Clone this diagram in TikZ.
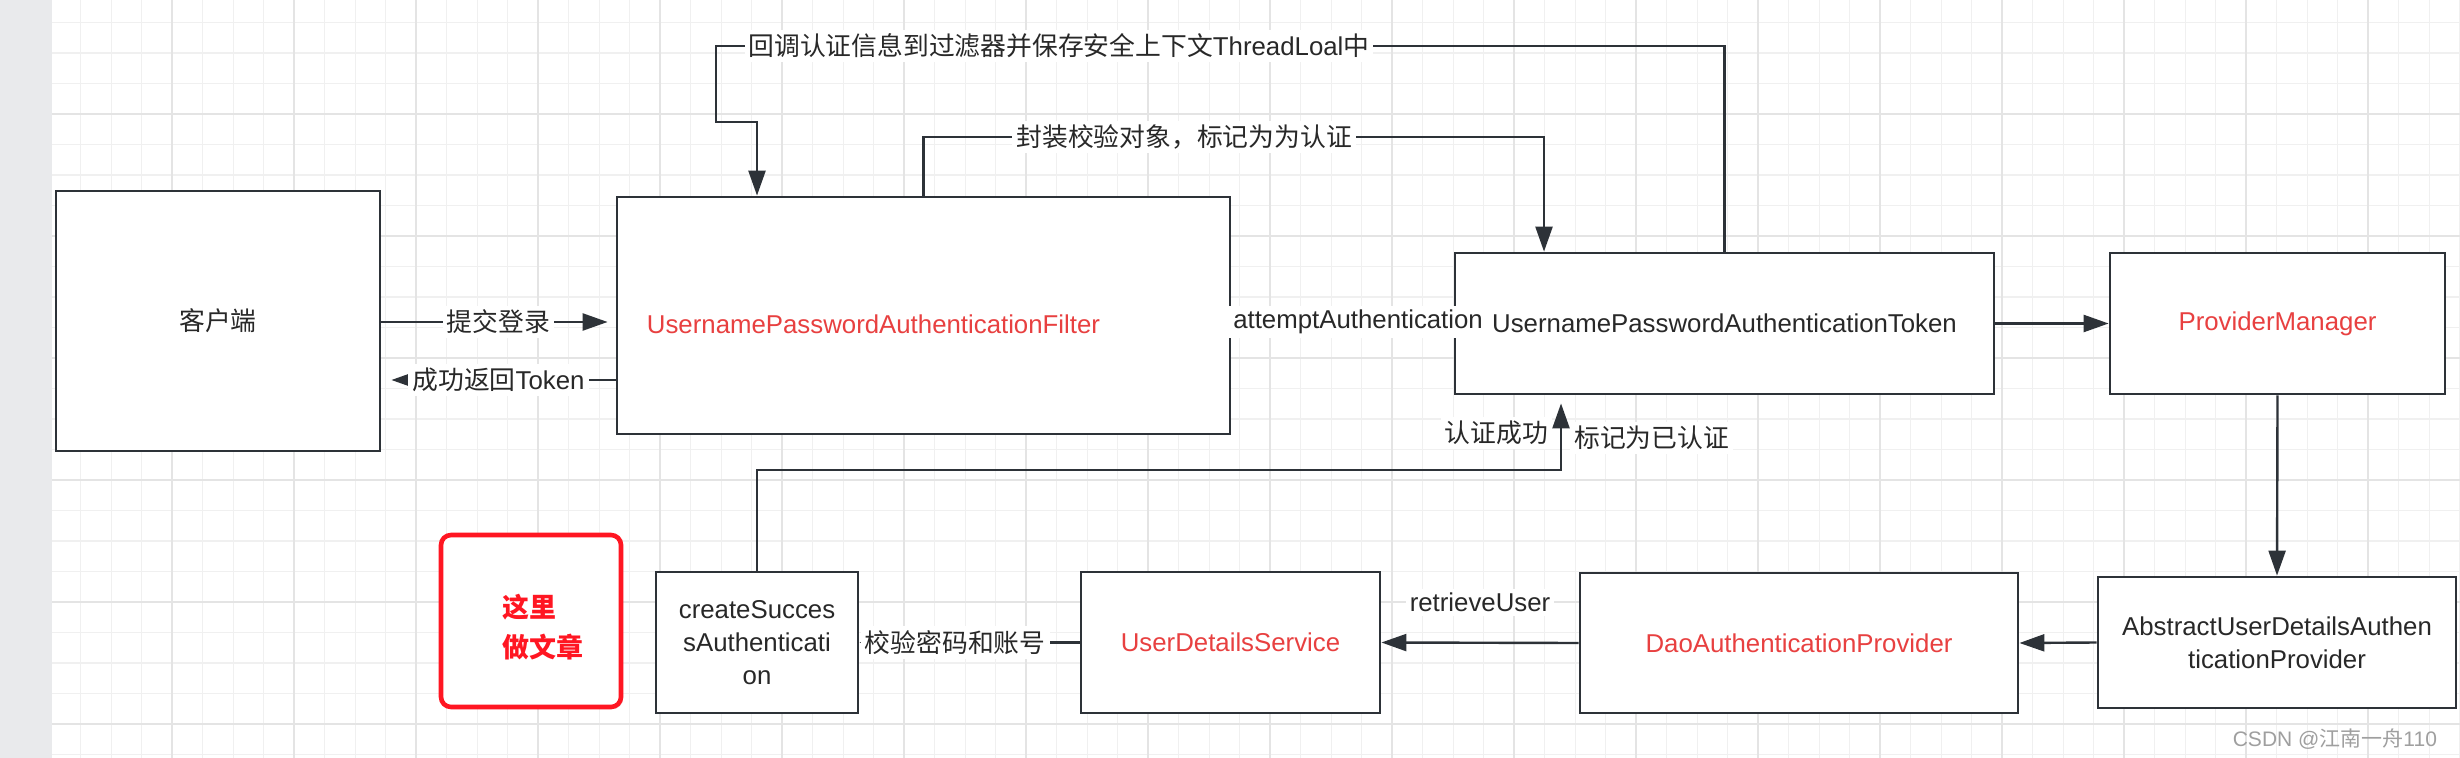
\documentclass[tikz,border=0pt]{standalone}
\usepackage{fontspec}
\setmainfont{Liberation Sans}
\newfontfamily\cjk{Noto Sans CJK SC}
\usetikzlibrary{arrows.meta,shadows}
\definecolor{linegray}{RGB}{45,50,56}
\definecolor{textgray}{RGB}{40,40,40}
\definecolor{authred}{RGB}{232,64,64}
\definecolor{notered}{RGB}{255,22,34}
\definecolor{gridminor}{RGB}{240,240,240}
\definecolor{gridmajor}{RGB}{228,228,228}
\definecolor{stripgray}{RGB}{233,234,236}
\begin{document}
\begin{tikzpicture}[x=0.5pt, y=-0.5pt,
        font=\fontsize{12.9}{16.5}\selectfont, text=textgray,
        box/.style={rectangle, draw=linegray, line width=1.4pt, fill=white, inner sep=0pt},
        flow/.style={draw=linegray, line width=1.2pt, -{Triangle[length=12.5pt, width=8.5pt]}},
        tag/.style={fill=white, inner sep=2pt},
        minorline/.style={draw=gridminor, line width=0.65pt},
        majorline/.style={draw=gridmajor, line width=1pt}]
        \useasboundingbox (0,0) rectangle (2460,758);

        % Canvas grid
        \fill[white] (0,0) rectangle (2460,758);
        \foreach \n in {1,...,79} \draw[minorline] ({50.3+30.5*\n},0) -- ++(0,758);
        \foreach \m in {0,...,24} \draw[minorline] (52,{22.5+30.5*\m}) -- (2460,{22.5+30.5*\m});
        \foreach \n in {4,8,...,76} \draw[majorline] ({50.3+30.5*\n},0) -- ++(0,758);
        \foreach \m in {3,7,...,23} \draw[majorline] (52,{22.5+30.5*\m}) -- (2460,{22.5+30.5*\m});
        \fill[stripgray] (0,0) rectangle (52,758);

        % Client
        \node[box, minimum width=162pt, minimum height=130pt] (client) at (218,321) {{\cjk 客户端}};

        % Filter
        \node[box, minimum width=306.5pt, minimum height=118.5pt] (filter) at (923.5,315.5) {};
        \node[text=authred] (filtertext) at (873.5,324) {UsernamePasswordAuthenticationFilter};

        % Token
        \node[box, minimum width=269.5pt, minimum height=70.5pt] (token) at (1724.5,323.5) {UsernamePasswordAuthenticationToken};

        % Provider Manager
        \node[box, text=authred, minimum width=167.5pt, minimum height=70.5pt] (manager) at (2277.5,323.5) {ProviderManager};

        % Abstract Provider
        \node[box, align=center, minimum width=179pt, minimum height=65.5pt] (abstract) at (2277,642.5) {AbstractUserDetailsAuthen\\ticationProvider};

        % Dao Provider
        \node[box, text=authred, minimum width=219pt, minimum height=70pt] (dao) at (1799,643) {DaoAuthenticationProvider};

        % User Details Service
        \node[box, text=authred, minimum width=149.5pt, minimum height=70.5pt] (uds) at (1230.5,642.5) {UserDetailsService};

        % Create Success
        \node[box, align=center, minimum width=101pt, minimum height=70.5pt] (create) at (757,642.5) {createSucces\\sAuthenticati\\on};

        % Note
        \node[box, draw=notered, line width=2.3pt, rounded corners=5pt,
            drop shadow={opacity=0.2, shadow xshift=1pt, shadow yshift=-1pt},
            minimum width=90pt, minimum height=86pt] (note) at (531,621) {};
        \node[text=notered, font=\cjk\bfseries\fontsize{13.5}{20}\selectfont, align=left] (notetext) at (543,627) {这里\\做文章};

        % Connections
        \draw[flow, shorten >=4pt] (client.east |- 0,322) -- (filter.west |- 0,322) node[tag, midway] {\cjk 提交登录};
        \draw[flow, shorten >=5pt] (filter.west |- 0,380) -- (client.east |- 0,380) node[tag, midway] {{\cjk 成功返回}Token};
        \draw[flow] (filter.east |- 0,322) -- (token.west |- 0,322) node[tag, pos=0.57] {attemptAuthentication};
        \draw[flow] (token.east) -- (manager.west);
        \draw[flow] (manager.south) -- (abstract.north);
        \draw[flow] (abstract.west) -- (dao.east);
        \draw[flow] (dao.west) -- (uds.east) node[tag, midway, above=13pt] {retrieveUser};
        \draw[flow] (uds.west) -- (create.east) node[tag, pos=0.565] {\cjk 校验密码和账号};
        \draw[flow, shorten >=4pt] (create.north) |- (1561,470)
            -- node[tag, left=4pt] {\cjk 认证成功} node[tag, right=4pt, yshift=-2.5pt] {\cjk 标记为已认证} (1561,470 |- token.south);
        \draw[flow] (filter.north) |- node[tag, pos=0.71] {\cjk 封装校验对象，标记为为认证} (1544,137) -- (1544,137 |- token.north);
        \draw[flow] (token.north) |- node[tag, pos=0.83] {{\cjk 回调认证信息到过滤器并保存安全上下文}ThreadLoal{\cjk 中}} (716,46)
            |- (757,122) -- (757,122 |- filter.north);

        % Watermark
        \node[text=gray!75, font=\fontsize{10.5}{12}\selectfont, anchor=east] (mark) at (2444,739) {CSDN @{\cjk 江南一舟}110};
    \end{tikzpicture}
\end{document}
